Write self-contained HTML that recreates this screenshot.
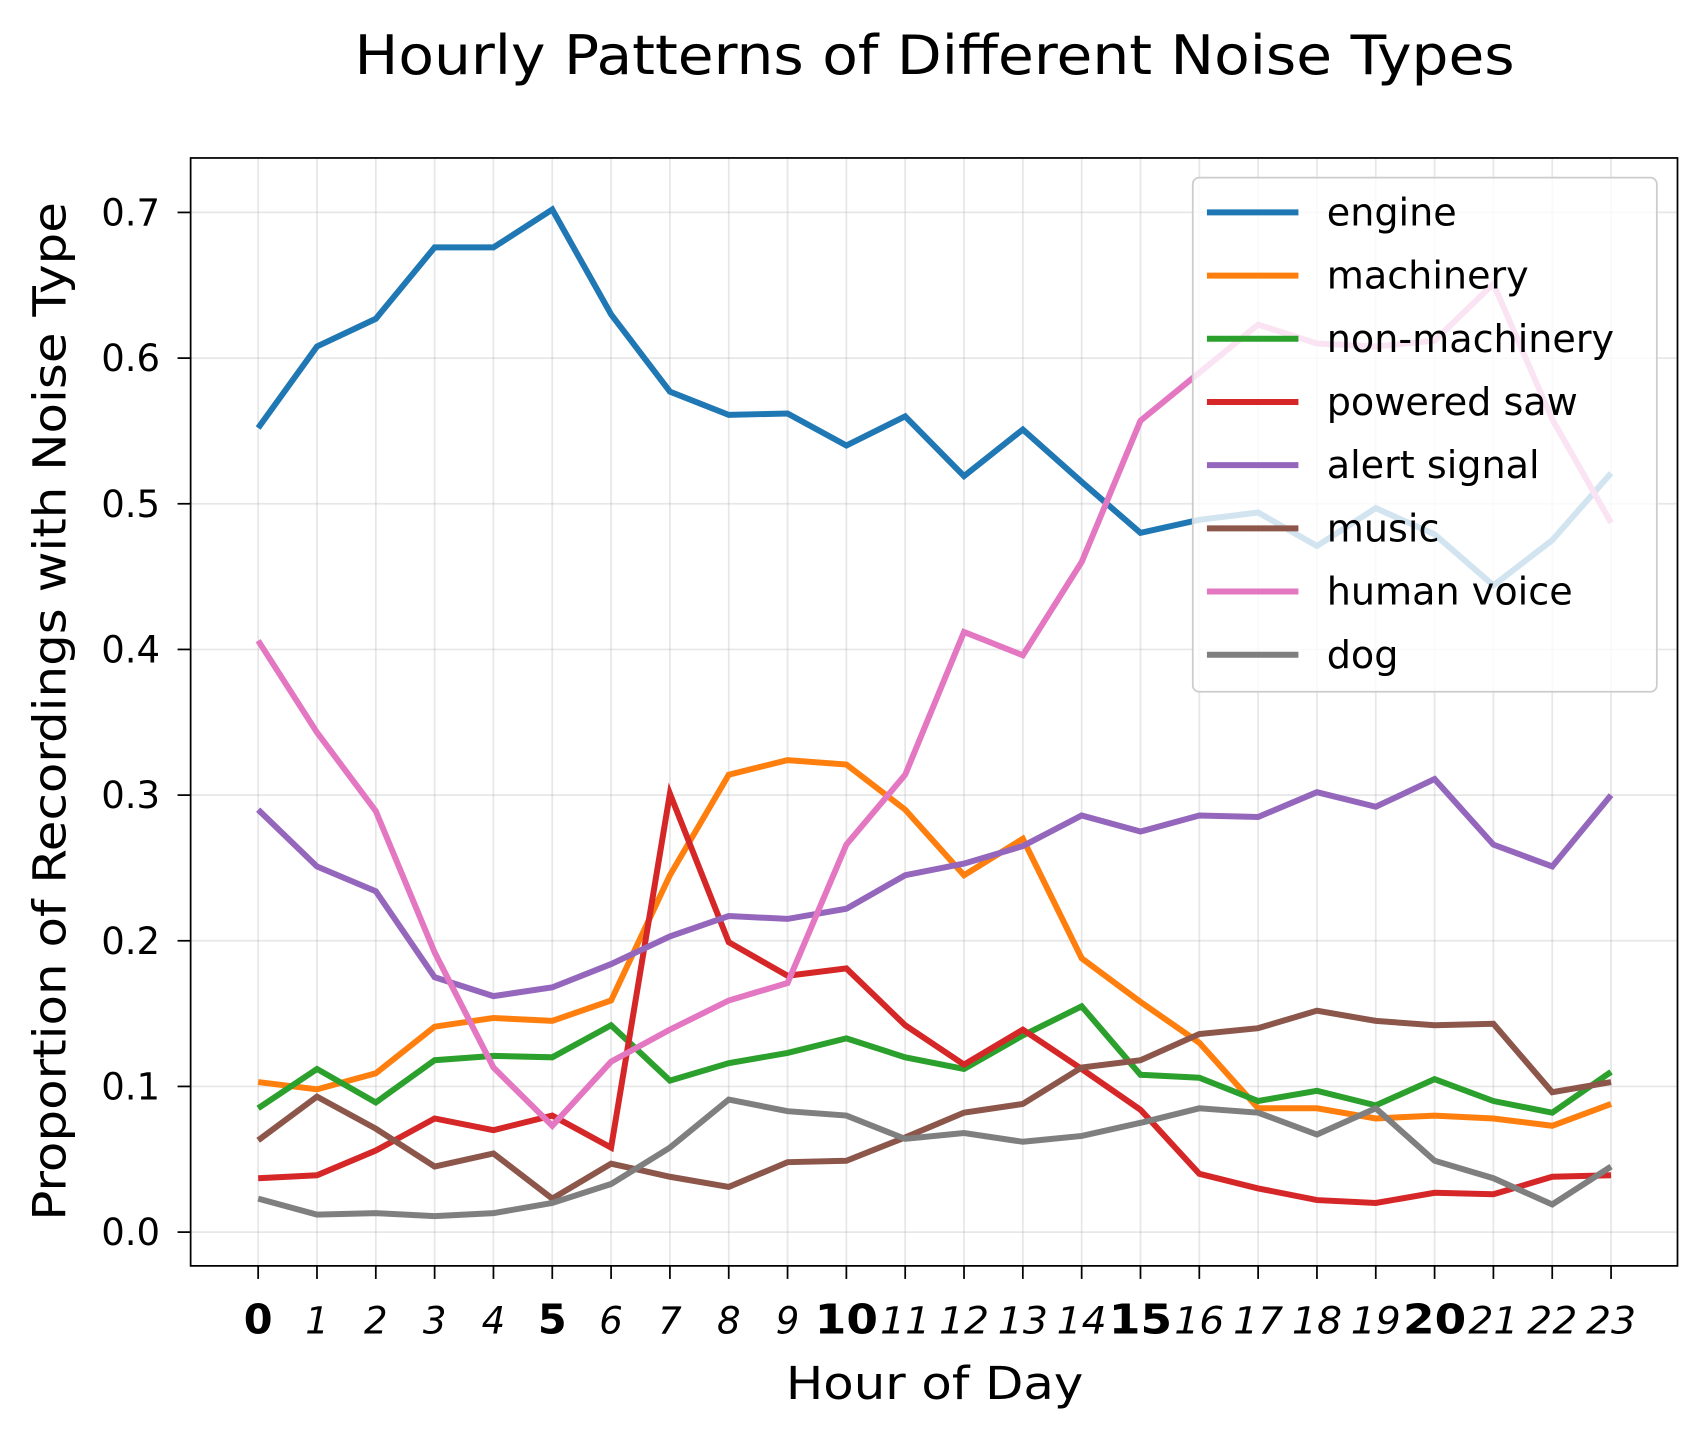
<!DOCTYPE html>
<html><head><meta charset="utf-8"><style>
html,body{margin:0;padding:0;background:#fff}
svg{display:block;font-family:"DejaVu Sans","Liberation Sans",sans-serif}
</style></head><body>
<svg id="chart" width="1708" height="1438" viewBox="0 0 1568 1320" preserveAspectRatio="none" xmlns="http://www.w3.org/2000/svg">
<rect width="1568" height="1320" fill="#fff"/>
<text x="858" y="68" font-size="50" text-anchor="middle" textLength="1065" lengthAdjust="spacingAndGlyphs">Hourly Patterns of Different Noise Types</text>
<g id="grid"></g>
<g id="lines"></g>
<rect x="175" y="145" width="1365" height="1017" fill="none" stroke="#000" stroke-width="1.6"/>
<g id="ticks"></g>
<text x="858" y="1284" font-size="42" text-anchor="middle" textLength="273" lengthAdjust="spacingAndGlyphs">Hour of Day</text>
<text transform="translate(60,653) rotate(-90)" font-size="42" text-anchor="middle" textLength="935" lengthAdjust="spacingAndGlyphs">Proportion of Recordings with Noise Type</text>
<g id="legend"></g>
</svg>
<script>
const hours = [0,1,2,3,4,5,6,7,8,9,10,11,12,13,14,15,16,17,18,19,20,21,22,23];
const yTicks = [0.0,0.1,0.2,0.3,0.4,0.5,0.6,0.7];
const seriesNames = ["engine","machinery","non-machinery","powered saw","alert signal","music","human voice","dog"];
const seriesColors = ["#1f77b4","#ff7f0e","#2ca02c","#d62728","#9467bd","#8c564b","#e377c2","#7f7f7f"];
const engine = [0.552,0.608,0.627,0.676,0.676,0.702,0.630,0.577,0.561,0.562,0.540,0.560,0.519,0.551,0.515,0.480,0.489,0.494,0.471,0.497,0.479,0.444,0.475,0.521];
const machinery = [0.103,0.098,0.109,0.141,0.147,0.145,0.159,0.245,0.314,0.324,0.321,0.290,0.245,0.270,0.188,0.158,0.130,0.085,0.085,0.078,0.080,0.078,0.073,0.088];
const nonMachinery = [0.085,0.112,0.089,0.118,0.121,0.120,0.142,0.104,0.116,0.123,0.133,0.120,0.112,0.135,0.155,0.108,0.106,0.090,0.097,0.087,0.105,0.090,0.082,0.110];
const poweredSaw = [0.037,0.039,0.056,0.078,0.070,0.080,0.058,0.301,0.199,0.176,0.181,0.142,0.115,0.139,0.112,0.084,0.040,0.030,0.022,0.020,0.027,0.026,0.038,0.039];
const alertSignal = [0.290,0.251,0.234,0.175,0.162,0.168,0.184,0.203,0.217,0.215,0.222,0.245,0.253,0.265,0.286,0.275,0.286,0.285,0.302,0.292,0.311,0.266,0.251,0.300];
const music = [0.063,0.093,0.071,0.045,0.054,0.023,0.047,0.038,0.031,0.048,0.049,0.065,0.082,0.088,0.113,0.118,0.136,0.140,0.152,0.145,0.142,0.143,0.096,0.103];
const humanVoice = [0.406,0.343,0.289,0.192,0.113,0.073,0.117,0.139,0.159,0.171,0.266,0.314,0.412,0.396,0.460,0.557,0.590,0.623,0.610,0.608,0.612,0.651,0.558,0.487];
const dog = [0.023,0.012,0.013,0.011,0.013,0.020,0.033,0.058,0.091,0.083,0.080,0.064,0.068,0.062,0.066,0.075,0.085,0.082,0.067,0.085,0.049,0.037,0.019,0.045];
const allSeries = [engine,machinery,nonMachinery,poweredSaw,alertSignal,music,humanVoice,dog];

const NS = "http://www.w3.org/2000/svg";
const X = h => 237 + h * (1479 - 237) / 23;
const Y = v => 1131 - v * (1131 - 195) / 0.7;
function mk(tag, attrs, parent) {
  const e = document.createElementNS(NS, tag);
  for (const k in attrs) e.setAttribute(k, attrs[k]);
  parent.appendChild(e);
  return e;
}
const grid = document.getElementById('grid');
const ticks = document.getElementById('ticks');
hours.forEach(h => {
  const g = mk('line', {x1:X(h), x2:X(h), y1:145, y2:1162, stroke:'#b0b0b0', 'stroke-opacity':0.3, 'stroke-width':1.6}, grid);
  
  
  const t = mk('line', {x1:X(h), x2:X(h), y1:1162, y2:1174, stroke:'#000', 'stroke-width':1.6}, ticks);
  
  
  const major = h % 5 === 0;
  const l = mk('text', {x:X(h), y:1224, 'text-anchor':'middle', 'font-size': major ? 38 : 34, 'font-weight': major ? 'bold' : 'normal', 'font-style': major ? 'normal' : 'italic'}, ticks);
  if (!major && h >= 10) { l.setAttribute('textLength', 46); l.setAttribute('lengthAdjust', 'spacingAndGlyphs'); }
  if (major && h >= 10) { l.setAttribute('textLength', 58); l.setAttribute('lengthAdjust', 'spacingAndGlyphs'); }
  l.textContent = h;
  
  
});
yTicks.forEach(v => {
  const g = mk('line', {x1:175, x2:1540, y1:Y(v), y2:Y(v), stroke:'#b0b0b0', 'stroke-opacity':0.3, 'stroke-width':1.6}, grid);
  
  
  const t = mk('line', {x1:163, x2:175, y1:Y(v), y2:Y(v), stroke:'#000', 'stroke-width':1.6}, ticks);
  
  
  const l = mk('text', {x:147, y:Y(v) + 12, 'text-anchor':'end', 'font-size':34}, ticks);
  l.textContent = v.toFixed(1);
  
  
});
const lines = document.getElementById('lines');
allSeries.forEach((s, i) => {
  const p = mk('polyline', {points: s.map((v, h) => X(hours[h]) + ',' + Y(v)).join(' '), fill:'none', stroke:seriesColors[i], 'stroke-width':5.5, 'stroke-linejoin':'miter'}, lines);
  
  
});
const legend = document.getElementById('legend');
const box = mk('rect', {x:1095, y:163, width:426, height:472, rx:6, fill:'#fff', 'fill-opacity':0.8, stroke:'#ccc', 'stroke-width':1.6}, legend);


seriesNames.forEach((n, i) => {
  const y = 195 + i * 58;
  const ln = mk('line', {x1:1108, x2:1192, y1:y, y2:y, stroke:seriesColors[i], 'stroke-width':5.5}, legend);
  
  
  const t = mk('text', {x:1218, y:y + 12, 'font-size':35}, legend);
  t.textContent = n;
  
  
});
</script>
</body></html>
